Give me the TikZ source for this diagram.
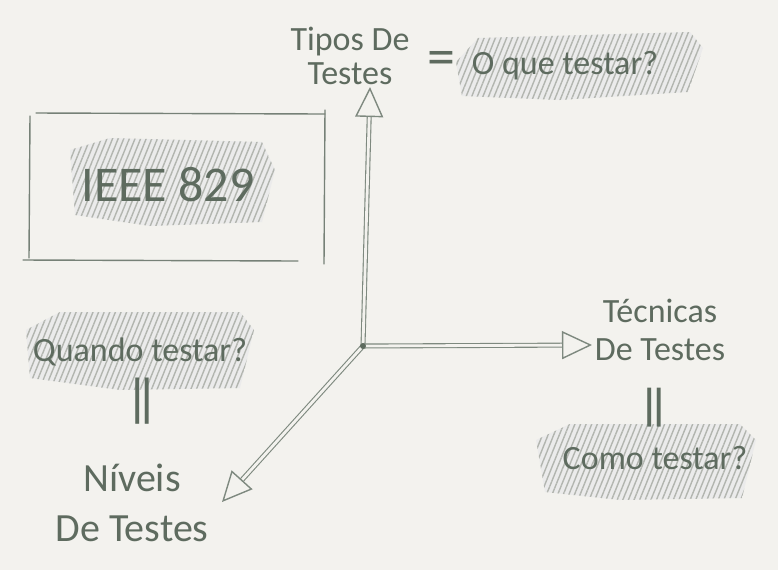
\documentclass[tikz,border=0pt]{standalone}
\usepackage{fontspec}
\setmainfont{Carlito}
\usetikzlibrary{arrows.meta, patterns.meta, positioning}
\definecolor{papel}{HTML}{F3F2EE}
\definecolor{grafite}{HTML}{5E6B5F}
\definecolor{sombra}{HTML}{B2B5AF}

\tikzset{
	texto/.style = {text=grafite, font=\fontsize{17}{17}\selectfont, align=center, inner sep=0pt},
	rabisco/.style = {fill=gray!16, postaction={pattern={Lines[angle=68, distance=2.6pt, line width=0.7pt]}, pattern color=sombra}},
	eixo/.style = {draw=grafite!80, line width=0.55pt, double=papel, double distance=1.4pt,
		-{Triangle[open, length=15pt, width=14pt, line width=0.7pt, fill=papel]}},
	traco/.style = {draw=grafite!85, line width=0.7pt, line cap=round}
}

\begin{document}
\begin{tikzpicture}[x = 0.5pt, y = -0.5pt]
	\fill[papel] (0, 0) rectangle (778, 570);
	\fill[rabisco] (456, 62) -- (478, 38) -- (690, 32) -- (703, 48) -- (688, 92) -- (560, 100) -- (462, 96) -- cycle;
	\fill[rabisco] (70, 150) -- (110, 138) -- (262, 142) -- (275, 170) -- (262, 222) -- (150, 226) -- (75, 215) -- cycle;
	\fill[rabisco] (26, 330) -- (60, 312) -- (240, 312) -- (254, 330) -- (240, 388) -- (120, 390) -- (30, 378) -- cycle;
	\fill[rabisco] (536, 440) -- (570, 424) -- (740, 424) -- (756, 440) -- (742, 498) -- (620, 500) -- (545, 492) -- cycle;
	\draw[traco] (36, 113) -- (325, 114);
	\draw[traco] (30, 116) -- (29, 258);
	\draw[traco] (23, 260) -- (298, 261);
	\draw[traco] (325, 110) -- (324, 264);
	\node[texto] (tipos) at (350, 56) {Tipos De\\Testes};
	\node[texto, font = \fontsize{28}{28}\selectfont] (igual) at (441, 63) {=};
	\node[texto] (oque) at (565, 66) {O que testar?};
	\node[texto, font = \fontsize{25}{25}\selectfont] (ieee) at (168, 185) {IEEE 829};
	\node[texto] (quando) at (140, 352) {Quando testar?};
	\node[texto, rotate = 90, font = \fontsize{30}{30}\selectfont] (igualA) at (149, 401) {\scalebox{1.9}[1]{=}};
	\node[texto, font = \fontsize{20}{25}\selectfont] (niveis) at (132, 503) {Níveis\\De Testes};
	\node[texto, font = \fontsize{17}{19}\selectfont] (tecnicas) at (660, 330) {Técnicas\\De Testes};
	\node[texto, rotate = 90, font = \fontsize{30}{30}\selectfont] (igualB) at (661, 408) {\scalebox{1.6}[1]{=}};
	\node[texto] (como) at (655, 458) {Como testar?};
	\coordinate (origem) at (363, 346);
	\coordinate (pontaCima) at (370, 87);
	\coordinate (pontaDir) at (592, 345);
	\coordinate (pontaBaixo) at (222, 502);
	\draw[eixo] (origem) -- (pontaCima);
	\draw[eixo] (origem) -- (pontaDir);
	\draw[eixo] (origem) -- (pontaBaixo);
	\fill[grafite] (origem) circle (3);
\end{tikzpicture}
\end{document}
